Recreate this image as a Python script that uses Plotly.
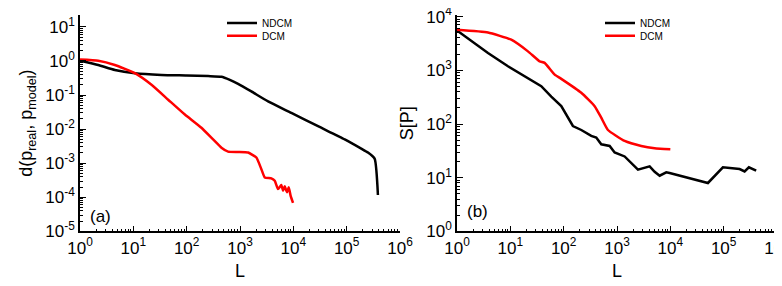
import plotly.graph_objects as go

# ---- Panel (a): distance d(p_real, p_model) vs L ----
a_ndcm_L = [1, 2.2, 4.5, 10.7, 33.8, 100, 253, 449, 644, 921, 1633, 3357, 9180, 29040,
            91830, 187500, 250600, 334200, 385500]
a_ndcm_d = [1.02, 0.765, 0.547, 0.438, 0.391, 0.375, 0.36, 0.345, 0.28, 0.214, 0.128,
            0.0653, 0.030, 0.0122, 0.00501, 0.00269, 0.00206, 0.00137, 0.000117]

a_dcm_L = [1, 2.2, 4.5, 10.7, 21.9, 45, 92.5, 189, 313, 449, 598, 920, 1419, 2028, 2518,
           2911, 3873, 4487, 5164, 5957, 6412, 6902, 7621, 8204, 8933, 9863]
a_dcm_d = [1.1, 1.02, 0.765, 0.438, 0.2, 0.0732, 0.0268, 0.011, 0.00501, 0.00287, 0.0022,
           0.00214, 0.00206, 0.00147, 0.000671, 0.000385, 0.00036, 0.000306, 0.000175,
           0.00023, 0.000157, 0.00021, 0.000141, 0.000197, 0.000108, 0.0000687]

# ---- Panel (b): S[P] vs L ----
b_ndcm_L = [1, 3.81, 9.03, 38.0, 58.6, 90.2, 149, 214, 329, 408, 507, 728, 903, 1390,
            2472, 4093, 5080, 6310, 8380, 9700, 50700, 96800, 199000, 247000, 297000,
            407000]
b_ndcm_S = [5500, 2100, 1186, 505, 322, 215, 91.8, 77.4, 60, 56, 42, 39.1, 29.5, 24.9,
            14.1, 16.3, 12.9, 10.9, 12.6, 12.2, 7.98, 15.6, 14.5, 13.1, 15.6, 13.5]

b_dcm_L = [1, 3.81, 10.4, 21.4, 35.5, 44, 67.8, 90.2, 214, 381, 507, 676, 1390, 2850,
           5080, 10000]
b_dcm_S = [5670, 5057, 3705, 2250, 1469, 1372, 832, 693, 381, 215, 131, 77.4, 48.4, 39.1,
           35.5, 34]

x_exps = [0, 1, 2, 3, 4, 5, 6]
ya_exps = [-5, -4, -3, -2, -1, 0, 1]
yb_exps = [0, 1, 2, 3, 4]

def pow_labels(exps):
    return [f"10<sup>{e}</sup>" for e in exps]

def minor_vals(lo, hi):
    return [m * 10 ** e for e in range(lo, hi) for m in range(2, 10)]

FONT = "Arial, Liberation Sans, sans-serif"
BLACK = "#000000"
RED = "#ff0000"

fig = go.Figure()
fig.add_trace(go.Scatter(x=a_ndcm_L, y=a_ndcm_d, mode="lines", name="NDCM",
                         line=dict(color=BLACK, width=2.5, shape="spline", smoothing=0.5),
                         xaxis="x", yaxis="y", legend="legend", showlegend=True))
fig.add_trace(go.Scatter(x=a_dcm_L, y=a_dcm_d, mode="lines", name="DCM",
                         line=dict(color=RED, width=2.5, shape="spline", smoothing=0.4),
                         xaxis="x", yaxis="y", legend="legend2", showlegend=True))
fig.add_trace(go.Scatter(x=b_ndcm_L, y=b_ndcm_S, mode="lines", name="NDCM",
                         line=dict(color=BLACK, width=2.5), xaxis="x2", yaxis="y2",
                         legend="legend3", showlegend=True))
fig.add_trace(go.Scatter(x=b_dcm_L, y=b_dcm_S, mode="lines", name="DCM",
                         line=dict(color=RED, width=2.5, shape="spline", smoothing=0.4),
                         xaxis="x2", yaxis="y2", legend="legend4", showlegend=True))

TICKFONT = dict(family=FONT, size=17, color=BLACK)
TITLEFONT = dict(family=FONT, size=18, color=BLACK)

def axis_common():
    return dict(type="log", showgrid=False, zeroline=False, showline=True,
                linecolor=BLACK, linewidth=1.5, ticks="inside", ticklen=6,
                tickwidth=1.2, tickcolor=BLACK, tickmode="array", automargin=False,
                ticklabeloverflow="allow", tickfont=TICKFONT)

xa = axis_common()
xa.update(domain=[72 / 782, 392 / 782], range=[0, 6], anchor="y",
          tickvals=[10 ** e for e in x_exps], ticktext=pow_labels(x_exps),
          minor=dict(tickmode="array", tickvals=minor_vals(0, 6), ticks="inside",
                     ticklen=3, tickcolor=BLACK, showgrid=False),
          title=dict(text="L", font=TITLEFONT, standoff=8))
ya = axis_common()
ya.update(domain=[63 / 286, 281 / 286], range=[-5, 1.35], anchor="x",
          tickvals=[10 ** e for e in ya_exps], ticktext=pow_labels(ya_exps),
          minor=dict(tickmode="array", tickvals=minor_vals(-5, 1), ticks="inside",
                     ticklen=3, tickcolor=BLACK, showgrid=False),
          title=dict(text="d(p<sub>real</sub>, p<sub>model</sub>)", font=TITLEFONT,
                     standoff=8))
xb = axis_common()
xb.update(domain=[449 / 782, 769 / 782], range=[0, 6], anchor="y2",
          tickvals=[10 ** e for e in x_exps], ticktext=pow_labels(x_exps),
          minor=dict(tickmode="array", tickvals=minor_vals(0, 6), ticks="inside",
                     ticklen=3, tickcolor=BLACK, showgrid=False),
          title=dict(text="L", font=TITLEFONT, standoff=8))
yb = axis_common()
yb.update(domain=[63 / 286, 281 / 286], range=[0, 4.03], anchor="x2",
          tickvals=[10 ** e for e in yb_exps], ticktext=pow_labels(yb_exps),
          minor=dict(tickmode="array", tickvals=minor_vals(0, 4), ticks="inside",
                     ticklen=3, tickcolor=BLACK, showgrid=False),
          title=dict(text="S[P]", font=TITLEFONT, standoff=8))

legend_style = dict(font=dict(family=FONT, size=10, color=BLACK), bgcolor="rgba(0,0,0,0)",
                    itemwidth=30, tracegroupgap=0, xanchor="left", yanchor="middle",
                    borderwidth=0)

fig.update_layout(
    width=782, height=286,
    margin=dict(l=0, r=0, t=0, b=0),
    paper_bgcolor="white", plot_bgcolor="white",
    showlegend=True,
    xaxis=xa, yaxis=ya, xaxis2=xb, yaxis2=yb,
    legend=dict(x=214 / 782, y=1 - 13 / 286, **legend_style),
    legend2=dict(x=214 / 782, y=1 - 26 / 286, **legend_style),
    legend3=dict(x=592 / 782, y=1 - 13 / 286, **legend_style),
    legend4=dict(x=592 / 782, y=1 - 26 / 286, **legend_style),
    annotations=[
        dict(text="(a)", x=80 / 782, y=(286 - 208) / 286, xref="paper", yref="paper",
             xanchor="left", yanchor="middle", showarrow=False,
             font=dict(family=FONT, size=17, color=BLACK)),
        dict(text="(b)", x=457 / 782, y=(286 - 203) / 286, xref="paper", yref="paper",
             xanchor="left", yanchor="middle", showarrow=False,
             font=dict(family=FONT, size=17, color=BLACK)),
    ],
)

fig.write_html("out.html")
